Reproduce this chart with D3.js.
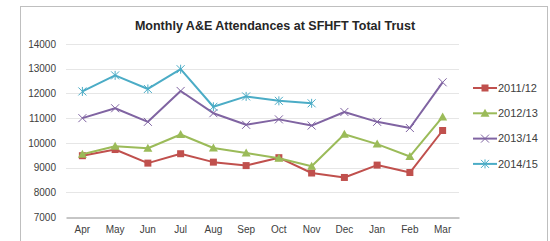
<!DOCTYPE html>
<html>
<head>
  <meta charset="utf-8">
  <script src="https://d3js.org/d3.v7.min.js"></script>
  <style>
    body { margin: 0; background: #fff; }
    text { font-family: "Liberation Sans", Arial, sans-serif; }
  </style>
</head>
<body>

<svg width="550" height="241"></svg>

<script>
  const months = ['Apr', 'May', 'Jun', 'Jul', 'Aug', 'Sep', 'Oct', 'Nov', 'Dec', 'Jan', 'Feb', 'Mar'];
  const yTicks = [7000, 8000, 9000, 10000, 11000, 12000, 13000, 14000];
  const seriesNames = ['2011/12', '2012/13', '2013/14', '2014/15'];

  const y2011 = [9480, 9730, 9180, 9560, 9220, 9080, 9400, 8780, 8600, 9100, 8800, 10500];
  const y2012 = [9540, 9860, 9780, 10340, 9790, 9590, 9380, 9050, 10350, 9950, 9450, 11050];
  const y2013 = [11000, 11400, 10850, 12100, 11200, 10730, 10950, 10700, 11250, 10850, 10600, 12450];
  const y2014 = [12080, 12730, 12180, 12980, 11460, 11880, 11700, 11600];

  const seriesValues = [y2011, y2012, y2013, y2014];
  const colors = ['#C0504D', '#9BBB59', '#8064A2', '#4BACC6'];
  const markers = ['square', 'triangle', 'cross', 'star'];

  const svg = d3.select("svg");

  // chart frame
  svg.append("rect")
    .attr("x", 20.5)
    .attr("y", 6.5)
    .attr("width", 527)
    .attr("height", 240)
    .attr("fill", "white")
    .attr("stroke", "#bfbfbf");

  const xScale = d3.scaleBand()
    .domain(months)
    .range([66, 459]);

  const yScale = d3.scaleLinear()
    .domain([7000, 14000])
    .range([217, 44]);

  // gridlines
  svg.append("g")
    .selectAll("line")
    .data(yTicks.slice(1))
    .enter().append("line")
    .attr("x1", 66)
    .attr("x2", 459)
    .attr("y1", d => Math.round(yScale(d)) + 0.5)
    .attr("y2", d => Math.round(yScale(d)) + 0.5)
    .attr("stroke", "#e6e6e6");

  // y axis labels
  const yAxis = svg.append("g")
    .attr("transform", "translate(60,0)")
    .call(d3.axisLeft(yScale).tickValues(yTicks).tickFormat(d3.format("d")).tickSize(0).tickPadding(4));
  yAxis.select(".domain").remove();
  yAxis.selectAll("text")
    .attr("fill", "#404040")
    .style("font-size", "10px");

  // x axis
  const xAxis = svg.append("g")
    .attr("transform", `translate(0,${Math.round(yScale(7000)) + 0.5})`)
    .call(d3.axisBottom(xScale).tickSize(0).tickPadding(8));
  xAxis.select(".domain").attr("stroke", "#8c8c8c");
  xAxis.selectAll("text")
    .attr("fill", "#404040")
    .style("font-size", "10px");

  const cx = i => xScale(months[i]) + xScale.bandwidth() / 2;

  const line = d3.line()
    .x((d, i) => cx(i))
    .y(d => yScale(d));

  function drawMarker(g, type, color) {
    if (type === 'square') {
      g.append("rect").attr("x", -3.5).attr("y", -3.5).attr("width", 7).attr("height", 7)
        .attr("fill", color);
    } else if (type === 'triangle') {
      g.append("path").attr("d", "M0,-4.5L4.5,3.5L-4.5,3.5Z").attr("fill", color);
    } else if (type === 'cross') {
      g.append("path").attr("d", "M-4,-4L4,4M-4,4L4,-4")
        .attr("stroke", color).attr("stroke-width", 1);
    } else {
      g.append("path").attr("d", "M-4,-4L4,4M-4,4L4,-4M0,-4.5L0,4.5")
        .attr("stroke", color).attr("stroke-width", 1);
    }
  }

  //series lines + markers
  seriesValues.forEach((vals, s) => {
    svg.append("path")
      .datum(vals)
      .attr("fill", "none")
      .attr("stroke", colors[s])
      .attr("stroke-width", 2)
      .attr("stroke-linejoin", "round")
      .attr("d", line);

    svg.append("g")
      .selectAll("g")
      .data(vals)
      .enter().append("g")
      .attr("transform", (d, i) => `translate(${cx(i)},${yScale(d)})`)
      .each(function () { drawMarker(d3.select(this), markers[s], colors[s]); });
  });

  // title
  svg.append("text")
    .attr("x", 275)
    .attr("y", 30)
    .attr("text-anchor", "middle")
    .attr("fill", "#262626")
    .style("font-size", "12.5px")
    .style("font-weight", "bold")
    .text("Monthly A&E Attendances at SFHFT Total Trust");

  //legend
  const legend = svg.selectAll(".legend")
    .data(seriesNames)
    .enter().append("g")
    .attr("class", "legend")
    .attr("transform", (d, i) => `translate(473,${88 + i * 25.3})`);

  legend.append("line")
    .attr("x1", 0)
    .attr("x2", 24)
    .attr("stroke", (d, i) => colors[i])
    .attr("stroke-width", 2);

  legend.append("g")
    .attr("transform", "translate(12,0)")
    .each(function (d, i) { drawMarker(d3.select(this), markers[i], colors[i]); });

  legend.append("text")
    .attr("x", 25)
    .attr("dy", "0.35em")
    .attr("fill", "#404040")
    .style("font-size", "11px")
    .text(d => d);
</script>

</body>
</html>
